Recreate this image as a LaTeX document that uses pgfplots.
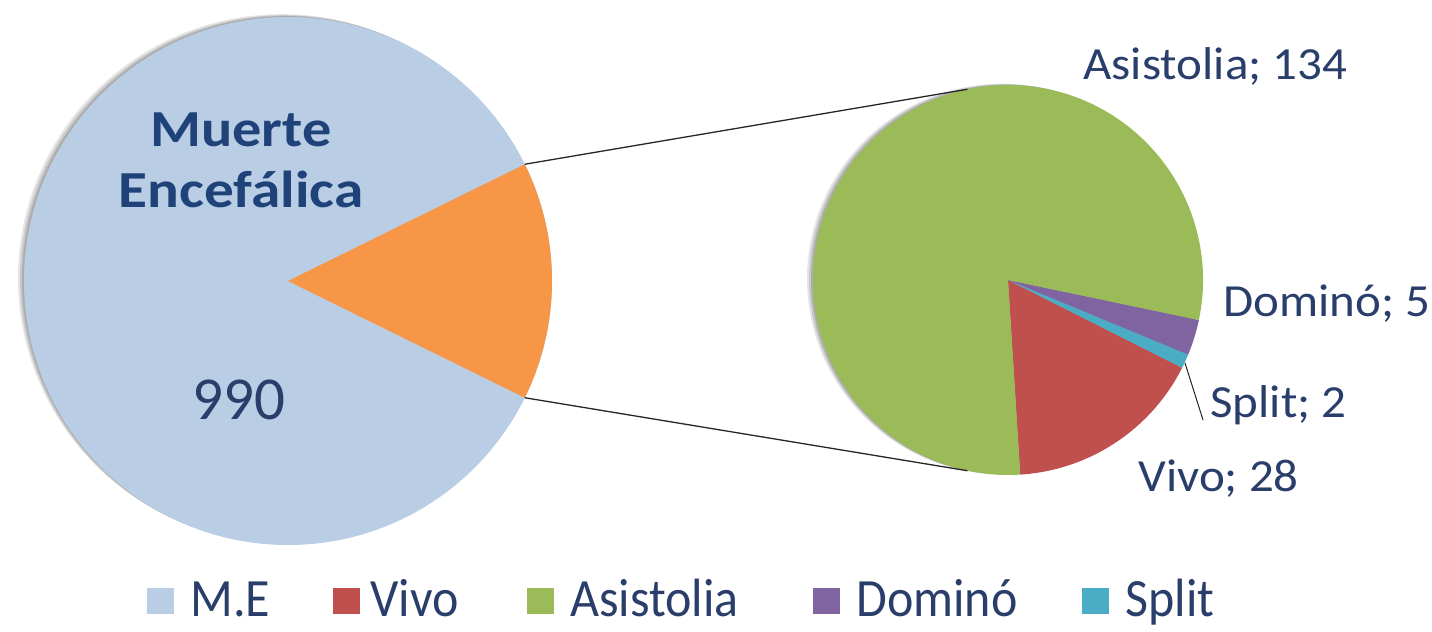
\documentclass[border=0pt]{standalone}
\usepackage{pgfplots}
\pgfplotsset{compat=1.18}
\usepackage{pgfplotstable}
\usepackage{fontspec}
\setmainfont{Carlito}
\usepackage{graphicx}

\definecolor{cME}{HTML}{B9CDE5}
\definecolor{cOther}{HTML}{F79646}
\definecolor{cVivo}{HTML}{C0504D}
\definecolor{cAsis}{HTML}{9BBB59}
\definecolor{cDom}{HTML}{8064A2}
\definecolor{cSplit}{HTML}{4BACC6}
\definecolor{txt}{HTML}{2A3E6C}
\definecolor{txtb}{HTML}{1F4279}

\pgfplotstableread{
cat value
ME 990
Vivo 28
Asistolia 134
Domino 5
Split 2
}\datatable

\pgfplotstablegetelem{0}{value}\of\datatable \let\vME\pgfplotsretval
\pgfplotstablegetelem{1}{value}\of\datatable \let\vVivo\pgfplotsretval
\pgfplotstablegetelem{2}{value}\of\datatable \let\vAsis\pgfplotsretval
\pgfplotstablegetelem{3}{value}\of\datatable \let\vDom\pgfplotsretval
\pgfplotstablegetelem{4}{value}\of\datatable \let\vSplit\pgfplotsretval

\pgfmathsetmacro{\vOther}{\vVivo+\vAsis+\vDom+\vSplit}
\pgfmathsetmacro{\halfA}{180/(\vME+\vOther)*\vOther}
\pgfmathsetmacro{\mhalfA}{-\halfA}
\pgfmathsetmacro{\sVivo}{-86.4}
\pgfmathsetmacro{\eVivo}{\sVivo+360/\vOther*\vVivo}
\pgfmathsetmacro{\eSplit}{\eVivo+360/\vOther*\vSplit}
\pgfmathsetmacro{\eDom}{\eSplit+360/\vOther*\vDom}
\pgfmathsetmacro{\eAsis}{\sVivo+360}

\newcommand{\pieslice}[5]{% center, radius, start, end, color
  \fill[#5] (#1) -- ++(#3:#2) arc[start angle=#3, end angle=#4, radius=#2] -- cycle;}
\newcommand{\legitem}[4]{% square x, text x, color, label
  \fill[#3] (axis cs:#1,17) rectangle ++(13.5pt,13pt);
  \node[anchor=base west, inner sep=0pt, text=txt, font=\fontsize{24.5}{28}\selectfont] at (axis cs:#2,15) {\scalebox{1.02}[1.1]{#4}};}
\newcommand{\dlab}[3]{%
  \node[anchor=base west, inner sep=0pt, text=txt, font=\fontsize{23}{26}\selectfont] at (axis cs:#1,#2) {\scalebox{1.065}[1]{#3}};}

\begin{document}
\begin{tikzpicture}
\begin{axis}[width=716pt, height=315.5pt, scale only axis,
  xmin=0, xmax=1432, ymin=0, ymax=631, hide axis, clip=false]
  \coordinate (L) at (axis cs:288,350);
  \coordinate (R) at (axis cs:1008,351);
  % shadows
  \fill[black, opacity=0.10] ([shift={(-3pt,1.4pt)}]L) circle[radius=132pt];
  \fill[black, opacity=0.12] ([shift={(-2pt,0.9pt)}]L) circle[radius=132pt];
  \fill[black, opacity=0.14] ([shift={(-1pt,0.5pt)}]L) circle[radius=132pt];
  \fill[black, opacity=0.10] ([shift={(-3pt,0.6pt)}]R) circle[radius=97.5pt];
  \fill[black, opacity=0.12] ([shift={(-2pt,0.4pt)}]R) circle[radius=97.5pt];
  \fill[black, opacity=0.14] ([shift={(-1pt,0.2pt)}]R) circle[radius=97.5pt];
  % left pie
  \fill[cME] (L) circle[radius=132pt];
  \pieslice{L}{132pt}{\mhalfA}{\halfA}{cOther}
  % right pie
  \pieslice{R}{97.5pt}{\sVivo}{\eVivo}{cVivo}
  \pieslice{R}{97.5pt}{\eVivo}{\eSplit}{cSplit}
  \pieslice{R}{97.5pt}{\eSplit}{\eDom}{cDom}
  \pieslice{R}{97.5pt}{\eDom}{\eAsis}{cAsis}
  % connectors
  \draw[black!85, line width=0.65pt] ([shift={(\halfA:132pt)}]L) -- ([shift={(102:97.5pt)}]R);
  \draw[black!85, line width=0.65pt] ([shift={(\mhalfA:132pt)}]L) -- ([shift={(258:97.5pt)}]R);
  % split leader
  \draw[black!85, line width=0.5pt] (axis cs:1185,268) -- (axis cs:1203,211);
  % texts in left pie
  \node[anchor=base, text=txtb, font=\fontsize{26}{30}\selectfont\bfseries] at (axis cs:241,484) {\scalebox{1.12}[1]{Muerte}};
  \node[anchor=base, text=txtb, font=\fontsize{26}{30}\selectfont\bfseries] at (axis cs:241,423) {\scalebox{1.14}[1]{Encefálica}};
  \node[anchor=base, text=txt, font=\fontsize{30.5}{34}\selectfont] at (axis cs:239,211) {990};
  % data labels
  \dlab{1083}{551}{Asistolia; 134}
  \dlab{1223}{314}{Dominó; 5}
  \dlab{1210}{213}{Split; 2}
  \dlab{1138}{139}{Vivo; 28}
  % legend
  \legitem{147}{190}{cME}{M.E}
  \legitem{333}{370}{cVivo}{Vivo}
  \legitem{527}{570}{cAsis}{Asistolia}
  \legitem{813}{856}{cDom}{Dominó}
  \legitem{1082}{1125}{cSplit}{Split}
\end{axis}
\pgfresetboundingbox
\path (current axis.south west) rectangle (current axis.north east);
\end{tikzpicture}
\end{document}
